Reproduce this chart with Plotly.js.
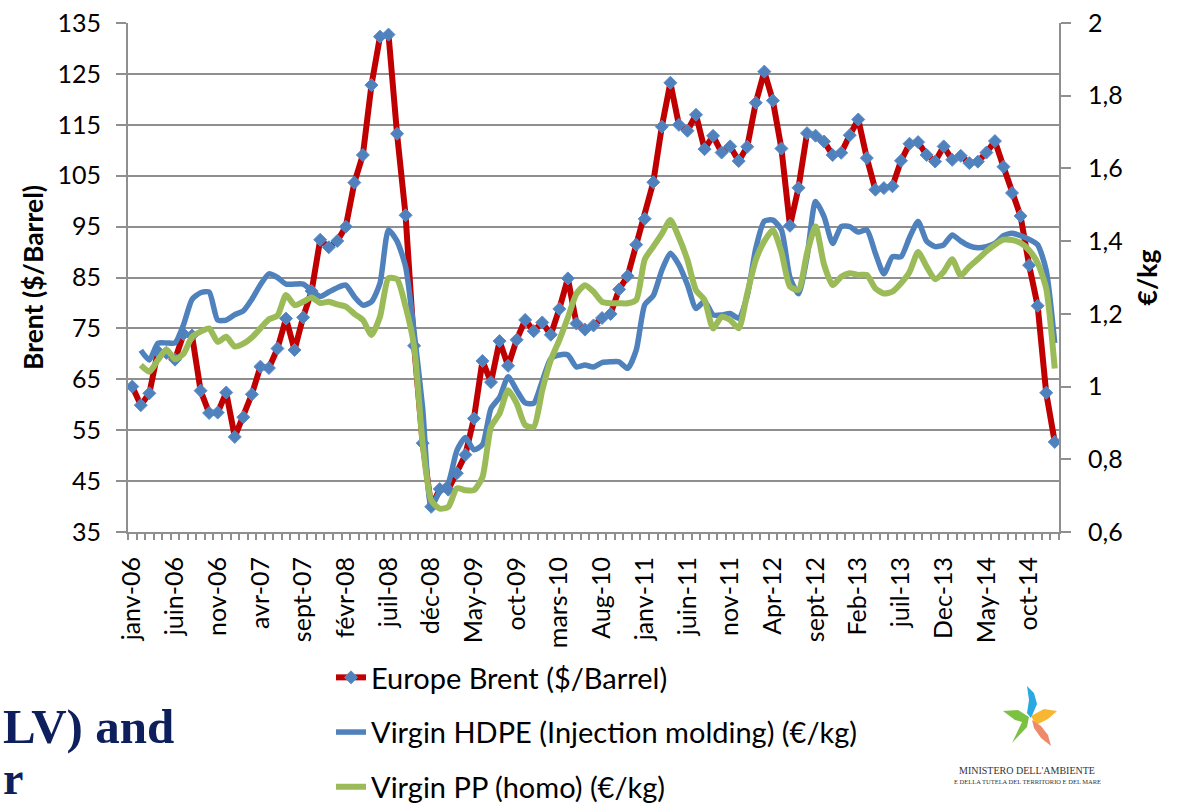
<!DOCTYPE html>
<html>
<head>
<meta charset="utf-8">
<script src="https://cdn.plot.ly/plotly-3.0.1.min.js"></script>
<style>
  html, body { margin: 0; padding: 0; background: #ffffff; }
  #chart { width: 1178px; height: 807px; }
</style>
</head>
<body>
<div id="chart"></div>
<script>
// Month index 0 = January 2006 ... 108 = January 2015
const tickLabels = ['janv-06','juin-06','nov-06','avr-07','sept-07','févr-08','juil-08','déc-08','May-09','oct-09','mars-10','Aug-10','janv-11','juin-11','nov-11','Apr-12','sept-12','Feb-13','juil-13','Dec-13','May-14','oct-14'];

// Europe Brent ($/Barrel), monthly
const brent = [
  63.57, 59.92, 62.25, 70.44, 70.19, 68.86, 73.90, 73.61, 62.77, 58.38, 58.46, 62.41,
  53.68, 57.56, 62.05, 67.49, 67.21, 71.05, 76.93, 70.76, 77.17, 82.34, 92.41, 90.93,
  92.18, 94.99, 103.64, 109.07, 122.80, 132.32, 132.72, 113.24, 97.23, 71.58, 52.45, 39.95,
  43.44, 43.32, 46.54, 50.18, 57.30, 68.61, 64.44, 72.51, 67.65, 72.77, 76.66, 74.46,
  76.17, 73.75, 78.83, 84.82, 75.95, 74.76, 75.58, 77.04, 77.84, 82.67, 85.28, 91.45,
  96.52, 103.72, 114.64, 123.26, 114.99, 113.83, 116.97, 110.22, 112.83, 109.55, 110.77, 107.87,
  110.69, 119.33, 125.45, 119.75, 110.34, 95.16, 102.62, 113.36, 112.86, 111.71, 109.06, 109.49,
  112.96, 116.05, 108.47, 102.25, 102.56, 102.92, 107.93, 111.28, 111.60, 109.08, 107.79, 110.76,
  108.12, 108.90, 107.48, 107.76, 109.54, 111.80, 106.77, 101.61, 97.09, 87.43, 79.44, 62.34,
  52.7
];

// Virgin HDPE (Injection molding) (€/kg)
const hdpe = [
  null, 1.10, 1.073, 1.119, 1.12, 1.12, 1.17, 1.24, 1.258, 1.26, 1.183, 1.183,
  1.198, 1.208, 1.24, 1.28, 1.31, 1.30, 1.282, 1.282, 1.282, 1.264, 1.248, 1.26,
  1.272, 1.279, 1.247, 1.224, 1.233, 1.284, 1.431, 1.40, 1.33, 1.15, 0.94, 0.67,
  0.712, 0.735, 0.824, 0.86, 0.826, 0.84, 0.94, 0.97, 1.027, 0.99, 0.955, 0.954,
  1.015, 1.077, 1.087, 1.087, 1.054, 1.059, 1.054, 1.066, 1.068, 1.068, 1.05, 1.10,
  1.225, 1.25, 1.32, 1.367, 1.335, 1.28, 1.215, 1.235, 1.197, 1.197, 1.201, 1.188,
  1.25, 1.38, 1.455, 1.458, 1.431, 1.30, 1.255, 1.357, 1.509, 1.467, 1.394, 1.44,
  1.44, 1.425, 1.431, 1.367, 1.31, 1.357, 1.357, 1.41, 1.454, 1.40, 1.385, 1.39,
  1.417, 1.40, 1.387, 1.382, 1.385, 1.394, 1.415, 1.422, 1.415, 1.405, 1.39, 1.32,
  1.12
];

// Virgin PP (homo) (€/kg)
const pp = [
  null, 1.059, 1.041, 1.073, 1.102, 1.075, 1.09, 1.137, 1.151, 1.16, 1.123, 1.137,
  1.11, 1.118, 1.135, 1.16, 1.185, 1.195, 1.252, 1.224, 1.233, 1.245, 1.23, 1.233,
  1.226, 1.22, 1.20, 1.183, 1.142, 1.192, 1.298, 1.295, 1.22, 1.11, 0.843, 0.687,
  0.664, 0.669, 0.72, 0.715, 0.715, 0.751, 0.889, 0.926, 0.99, 0.954, 0.894, 0.889,
  0.99, 1.073, 1.128, 1.19, 1.255, 1.279, 1.261, 1.233, 1.229, 1.229, 1.229, 1.238,
  1.35, 1.385, 1.42, 1.458, 1.41, 1.348, 1.265, 1.238, 1.16, 1.192, 1.183, 1.16,
  1.256, 1.348, 1.40, 1.431, 1.37, 1.275, 1.266, 1.367, 1.44, 1.335, 1.279, 1.302,
  1.312, 1.307, 1.307, 1.270, 1.256, 1.261, 1.284, 1.315, 1.37, 1.33, 1.295, 1.316,
  1.35, 1.305, 1.33, 1.35, 1.372, 1.39, 1.404, 1.403, 1.395, 1.375, 1.34, 1.27,
  1.05
];

const seriesNames = ['Europe Brent ($/Barrel)', 'Virgin HDPE (Injection molding) (€/kg)', 'Virgin PP (homo) (€/kg)'];
const leftTicks = [35, 45, 55, 65, 75, 85, 95, 105, 115, 125, 135];
const rightTicks = [0.6, 0.8, 1, 1.2, 1.4, 1.6, 1.8, 2];
const rightTickText = ['0,6', '0,8', '1', '1,2', '1,4', '1,6', '1,8', '2'];

const months = brent.map((_, i) => i);
const tickVals = tickLabels.map((_, k) => k * 5);

const W = 1178, H = 807;
const M = { l: 128, r: 119, t: 23, b: 275, autoexpand: false };
const PW = W - M.l - M.r, PH = H - M.t - M.b;
const px = x => (x - M.l) / PW;
const py = y => (H - M.b - y) / PH;

const FONT = 'Lato, Carlito, Calibri, "Noto Sans", sans-serif';
const SERIF = '"Liberation Serif", "Times New Roman", serif';
const GRID = '#8f8f8f';

const traces = [
  {
    x: months, y: brent, name: seriesNames[0], type: 'scatter', mode: 'lines+markers',
    line: { color: '#c00000', width: 6 },
    marker: { symbol: 'diamond', size: 10, color: '#4f81bd', line: { color: '#5b8cc8', width: 1 } },
    yaxis: 'y', legendgroup: 'a'
  },
  {
    x: months, y: hdpe, name: seriesNames[1], type: 'scatter', mode: 'lines',
    line: { color: '#4f81bd', width: 5.5, shape: 'spline', smoothing: 0.6 },
    yaxis: 'y2', legendgroup: 'b'
  },
  {
    x: months, y: pp, name: seriesNames[2], type: 'scatter', mode: 'lines',
    line: { color: '#9bbb59', width: 6, shape: 'spline', smoothing: 0.6 },
    yaxis: 'y2', legendgroup: 'c'
  }
];

// Ministry logo (star) as simple shapes, pixel coords converted to paper
function pathPx(pts) {
  return 'M ' + pts.map(p => px(p[0]).toFixed(5) + ' ' + py(p[1]).toFixed(5)).join(' L ') + ' Z';
}
const logoShapes = [
  { pts: [[1031, 718], [1037, 704], [1034, 693], [1027, 686], [1029, 700], [1027, 713]], color: '#29a9e0' },
  { pts: [[1031, 716], [1044, 709], [1057, 711], [1048, 719], [1036, 725]], color: '#f7b733' },
  { pts: [[1032, 720], [1041, 726], [1048, 735], [1051, 746], [1041, 738], [1034, 728]], color: '#ee8a6b' },
  { pts: [[1029, 717], [1018, 710], [1003, 711], [1015, 720], [1022, 722], [1012, 743], [1027, 727]], color: '#7cc242' }
].map(s => ({ type: 'path', xref: 'paper', yref: 'paper', path: pathPx(s.pts), fillcolor: s.color, line: { width: 0 }, layer: 'above' }));

const layout = {
  width: W, height: H,
  margin: M,
  paper_bgcolor: '#ffffff', plot_bgcolor: '#ffffff',
  font: { family: FONT, color: '#000000' },
  showlegend: true,
  legend: {
    x: px(331), y: py(652), xanchor: 'left', yanchor: 'top',
    orientation: 'v', tracegroupgap: 14, itemwidth: 30,
    font: { family: FONT, size: 29, color: '#000000' },
    bgcolor: 'rgba(0,0,0,0)'
  },
  xaxis: {
    automargin: false,
    range: [-0.5, 108.5],
    tickmode: 'array', tickvals: tickVals, ticktext: tickLabels,
    tickangle: -90, ticks: '', ticklabelstandoff: 13,
    tickfont: { family: FONT, size: 25, color: '#000000' },
    showgrid: false, zeroline: false,
    showline: true, linecolor: GRID, linewidth: 2,
    minor: { ticks: 'outside', ticklen: 6, tickwidth: 1.5, tickcolor: GRID, tick0: -0.5, dtick: 1, showgrid: false }
  },
  yaxis: {
    automargin: false,
    range: [35, 135], tickmode: 'array', tickvals: leftTicks,
    ticks: 'outside', ticklen: 10, tickwidth: 2, tickcolor: GRID,
    showgrid: true, gridcolor: GRID, gridwidth: 2, zeroline: false,
    showline: true, linecolor: GRID, linewidth: 2,
    tickfont: { family: FONT, size: 25, color: '#000000' },
    ticklabelstandoff: 10,
    title: { text: 'Brent ($/Barrel)', font: { family: FONT, size: 26.5, color: '#000000', weight: 'bold' }, standoff: 6 }
  },
  yaxis2: {
    automargin: false,
    overlaying: 'y', side: 'right',
    range: [0.6, 2], tickmode: 'array', tickvals: rightTicks, ticktext: rightTickText,
    ticks: 'outside', ticklen: 10, tickwidth: 2, tickcolor: GRID,
    showgrid: false, zeroline: false,
    showline: true, linecolor: GRID, linewidth: 2,
    tickfont: { family: FONT, size: 25, color: '#000000' },
    ticklabelstandoff: 12,
    title: { text: '€/kg', font: { family: FONT, size: 26.5, color: '#000000', weight: 'bold' }, standoff: 17 }
  },
  shapes: logoShapes,
  annotations: [
    { xref: 'paper', yref: 'paper', x: px(1), y: py(726), xanchor: 'left', yanchor: 'middle', showarrow: false,
      text: 'LV) and', font: { family: SERIF, size: 49, color: '#0d1f5c', weight: 'bold' } },
    { xref: 'paper', yref: 'paper', x: px(1), y: py(806), xanchor: 'left', yanchor: 'bottom', showarrow: false,
      text: 'r', font: { family: SERIF, size: 46, color: '#0d1f5c', weight: 'bold' } },
    { xref: 'paper', yref: 'paper', x: px(1027), y: py(770), xanchor: 'center', yanchor: 'middle', showarrow: false,
      text: "MINISTERO DELL'AMBIENTE", font: { family: SERIF, size: 10, color: '#333333' } },
    { xref: 'paper', yref: 'paper', x: px(1027), y: py(781), xanchor: 'center', yanchor: 'middle', showarrow: false,
      text: 'E DELLA TUTELA DEL TERRITORIO E DEL MARE', font: { family: SERIF, size: 6.5, color: '#333333' } }
  ]
};

Plotly.newPlot('chart', traces, layout, { displayModeBar: false, responsive: false });
</script>
</body>
</html>
